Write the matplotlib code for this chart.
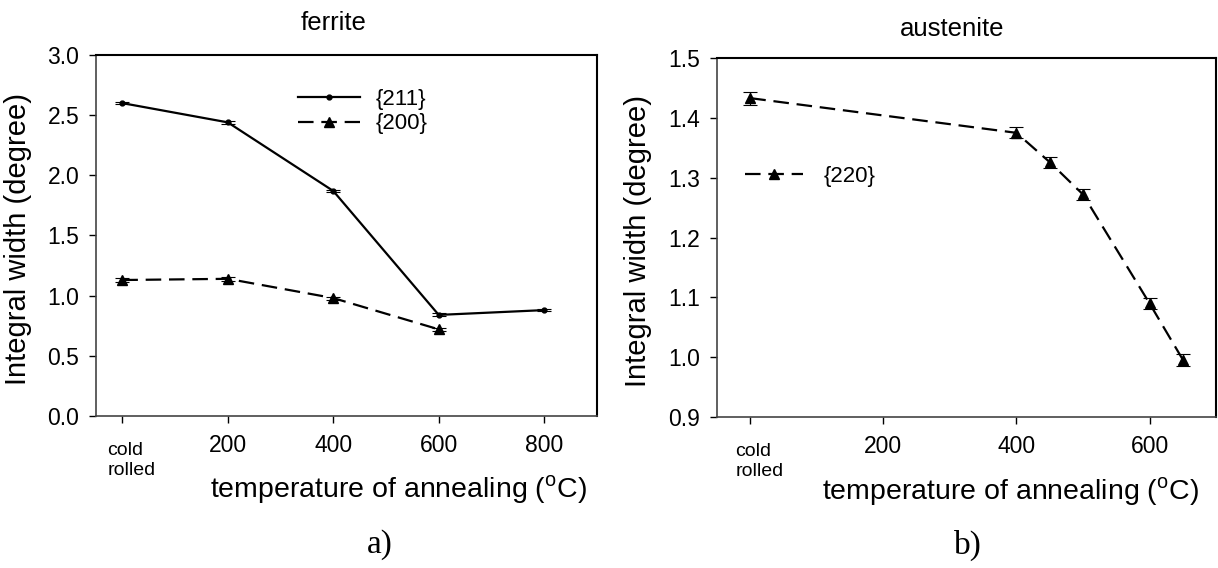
import matplotlib
matplotlib.use("Agg")
import matplotlib.pyplot as plt
import matplotlib.transforms as mtransforms

plt.rcParams['font.family'] = ['Liberation Sans', 'DejaVu Sans']
plt.rcParams['mathtext.fontset'] = 'custom'
plt.rcParams['mathtext.rm'] = 'Liberation Sans'

# ferrite (a)
temp_211 = [0, 200, 400, 600, 800]
width_211 = [2.60, 2.44, 1.87, 0.84, 0.88]
err_211 = [0.01, 0.01, 0.012, 0.012, 0.01]

temp_200 = [0, 200, 400, 600]
width_200 = [1.13, 1.14, 0.98, 0.72]
err_200 = [0.015, 0.015, 0.012, 0.012]

# austenite (b)
temp_220 = [0, 400, 450, 500, 600, 650]
width_220 = [1.433, 1.375, 1.326, 1.272, 1.090, 0.996]
err_220 = [0.011, 0.009, 0.009, 0.009, 0.009, 0.010]

ticks_a = [0, 200, 400, 600, 800]
ticklabels_a = ["cold\nrolled", "200", "400", "600", "800"]
ticks_b = [0, 200, 400, 600]
ticklabels_b = ["cold\nrolled", "200", "400", "600"]

fig = plt.figure(figsize=(12.18, 5.68), dpi=100)
ax1 = fig.add_axes([0.0788, 0.2676, 0.4113, 0.6356])
ax2 = fig.add_axes([0.5887, 0.2658, 0.4097, 0.632])

dash = (7, 3.5)

# left panel
ax1.plot(temp_211, width_211, color='black', lw=1.6, marker='o', markersize=3.5, label='{211}')
ax1.errorbar(temp_211, width_211, yerr=err_211, fmt='none', ecolor='black', elinewidth=0.8, capsize=5, capthick=0.8)
ax1.plot(temp_200, width_200, color='black', lw=1.6, dashes=dash, marker='^', markersize=7, label='{200}')
ax1.errorbar(temp_200, width_200, yerr=err_200, fmt='none', ecolor='black', elinewidth=0.8, capsize=5, capthick=0.8)
ax1.set_xlim(-50, 900)
ax1.set_ylim(0, 3.0)
ax1.set_yticks([0, 0.5, 1.0, 1.5, 2.0, 2.5, 3.0])
ax1.set_yticklabels(["0.0", "0.5", "1.0", "1.5", "2.0", "2.5", "3.0"])
ax1.set_xticks(ticks_a)
ax1.set_xticklabels(ticklabels_a)
ax1.set_ylabel("Integral width (degree)", fontsize=21)
ax1.legend(loc='center left', bbox_to_anchor=(0.403, 0.843), frameon=False, fontsize=16,
           handlelength=2.8, handletextpad=0.7, labelspacing=0.15, borderpad=0, borderaxespad=0,
           numpoints=1)

# right panel
ax2.plot(temp_220, width_220, color='black', lw=1.6, dashes=dash, marker='^', markersize=7, label='{220}')
ax2.errorbar(temp_220, width_220, yerr=err_220, fmt='none', ecolor='black', elinewidth=0.8, capsize=5, capthick=0.8)
ax2.set_xlim(-50, 700)
ax2.set_ylim(0.9, 1.5)
ax2.set_yticks([0.9, 1.0, 1.1, 1.2, 1.3, 1.4, 1.5])
ax2.set_yticklabels(["0.9", "1.0", "1.1", "1.2", "1.3", "1.4", "1.5"])
ax2.set_xticks(ticks_b)
ax2.set_xticklabels(ticklabels_b)
ax2.set_ylabel("Integral width (degree)", fontsize=21)
ax2.legend(loc='center left', bbox_to_anchor=(0.056, 0.671), frameon=False, fontsize=16,
           handlelength=2.6, handletextpad=0.95, borderpad=0, borderaxespad=0, numpoints=1)

for ax in (ax1, ax2):
    ax.tick_params(axis='both', direction='out', length=5, width=1, labelsize=16.5, pad=7)
    ax.tick_params(axis='x', pad=8)
    for s in ('top', 'right'):
        ax.spines[s].set_color('black')
        ax.spines[s].set_linewidth(1.5)
    for s in ('left', 'bottom'):
        ax.spines[s].set_color('#444444')
        ax.spines[s].set_linewidth(1.2)
    lab = ax.get_xticklabels()[0]
    lab.set_fontsize(14)
    lab.set_multialignment('left')
    lab.set_verticalalignment('top')
    lab.set_transform(lab.get_transform() + mtransforms.ScaledTranslation(9 / 100, -8 / 100, fig.dpi_scale_trans))

ax1.yaxis.set_label_coords(-0.128, 0.49)
ax2.yaxis.set_label_coords(-0.13, 0.49)

# titles, x labels and panel letters
fig.text(334 / 1218, 1 - 23 / 568, "ferrite", ha='center', va='center', fontsize=18.5)
fig.text(952 / 1218, 1 - 29 / 568, "austenite", ha='center', va='center', fontsize=18.5)
xlab = "temperature of annealing ($^{\\mathrm{o}}$C)"
fig.text(398 / 1218, 1 - 490 / 568, xlab, ha='center', va='center', fontsize=20.5)
fig.text(1010 / 1218, 1 - 492 / 568, xlab, ha='center', va='center', fontsize=20.5)
fig.text(380 / 1218, 1 - 545 / 568, "a)", ha='center', va='center', fontsize=24, family='Liberation Serif')
fig.text(968 / 1218, 1 - 545 / 568, "b)", ha='center', va='center', fontsize=24, family='Liberation Serif')

fig.savefig("out.png", dpi=100)
